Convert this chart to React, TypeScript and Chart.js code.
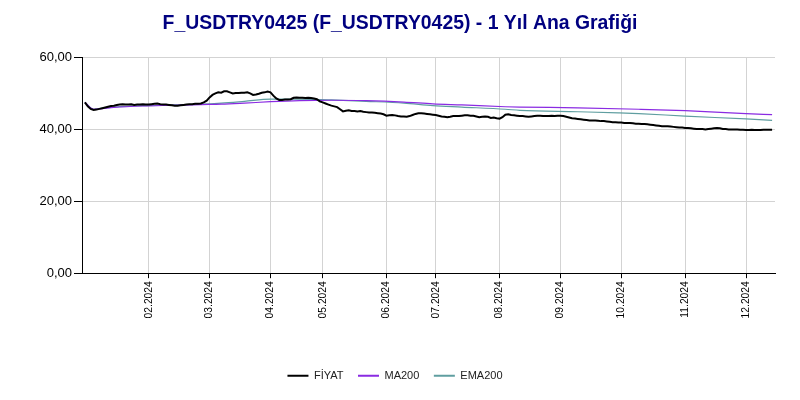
import React, { useEffect, useRef } from "react";
import { Chart, registerables } from "chart.js";

Chart.register(...registerables);

const TITLE = "F_USDTRY0425 (F_USDTRY0425) - 1 Yıl Ana Grafiği";
const SERIES_NAMES = ["FİYAT", "MA200", "EMA200"];
const SERIES_COLORS = ["#000000", "#8a2be2", "#5f9ea0"];

// month tick labels and the trading-day index where each month starts
const MONTH_LABELS = ["02.2024", "03.2024", "04.2024", "05.2024", "06.2024", "07.2024", "08.2024", "09.2024", "10.2024", "11.2024", "12.2024"];
const MONTH_START_INDEX = [22, 43, 64, 82, 104, 121, 143, 164, 185, 207, 228];
const LAST_INDEX = 238;

const Y_MIN = 0;
const Y_MAX = 60;
const Y_STEP = 20;

// daily closing price (trading days, Jan..Dec 2024)
const PRICE_JAN = [47.5, 46.4, 45.7, 45.4, 45.5, 45.7, 45.9, 46.1, 46.3, 46.5, 46.6, 46.8, 46.9, 47.0, 46.9, 46.9, 47.0, 46.8, 46.9, 46.9, 47.0, 46.9];
const PRICE_FEB = [46.9, 47.0, 47.1, 47.2, 47.0, 46.9, 46.9, 46.8, 46.7, 46.6, 46.6, 46.7, 46.8, 46.9, 47.0, 47.0, 47.1, 47.1, 47.2, 47.5, 48.0];
const PRICE_MAR = [48.9, 49.6, 50.0, 50.3, 50.2, 50.6, 50.6, 50.3, 50.0, 50.1, 50.1, 50.2, 50.2, 50.3, 50.0, 49.6, 49.7, 49.9, 50.2, 50.3, 50.5];
const PRICE_APR = [50.3, 49.4, 48.6, 48.2, 48.2, 48.3, 48.3, 48.4, 48.8, 48.9, 48.8, 48.8, 48.7, 48.8, 48.7, 48.6, 48.4, 47.8];
const PRICE_MAY = [47.5, 47.2, 46.9, 46.6, 46.4, 46.2, 45.6, 45.0, 45.2, 45.3, 45.1, 45.1, 45.0, 45.1, 44.9, 44.8, 44.7, 44.7, 44.6, 44.5, 44.4, 44.2];
const PRICE_JUN = [43.8, 43.9, 44.0, 43.9, 43.7, 43.6, 43.6, 43.5, 43.7, 44.0, 44.3, 44.5, 44.5, 44.4, 44.3, 44.2, 44.1];
const PRICE_JUL = [44.0, 43.8, 43.6, 43.5, 43.4, 43.5, 43.7, 43.7, 43.7, 43.8, 43.9, 43.9, 43.8, 43.8, 43.6, 43.4, 43.5, 43.6, 43.5, 43.2, 43.3, 43.1];
const PRICE_AUG = [43.0, 43.4, 44.1, 44.2, 44.0, 43.9, 43.8, 43.7, 43.7, 43.6, 43.5, 43.6, 43.7, 43.8, 43.8, 43.7, 43.7, 43.7, 43.8, 43.7, 43.8];
const PRICE_SEP = [43.8, 43.7, 43.5, 43.3, 43.1, 43.0, 42.9, 42.8, 42.7, 42.6, 42.5, 42.5, 42.5, 42.4, 42.3, 42.3, 42.2, 42.1, 42.0, 42.0, 41.9];
const PRICE_OCT = [41.9, 41.8, 41.8, 41.8, 41.7, 41.6, 41.6, 41.5, 41.5, 41.4, 41.3, 41.2, 41.1, 41.0, 40.9, 40.9, 40.9, 40.8, 40.7, 40.6, 40.5, 40.5];
const PRICE_NOV = [40.4, 40.4, 40.3, 40.2, 40.1, 40.1, 40.1, 40.0, 40.1, 40.2, 40.3, 40.4, 40.3, 40.1, 40.1, 40.0, 40.0, 40.0, 40.0, 39.9, 39.9];
const PRICE_DEC = [39.8, 39.8, 39.9, 39.8, 39.8, 39.8, 39.9, 39.9, 39.9, 39.9];

// moving averages, read at selected trading-day indices
const MA200_AT = [0, 3, 6, 10, 20, 30, 40, 47, 55, 64, 74, 85, 97, 110, 120, 130, 145, 150, 170, 191, 207, 228, 237];
const MA200 = [47.5, 45.6, 45.8, 46.1, 46.5, 46.7, 46.9, 47.0, 47.3, 47.7, 48.0, 48.1, 48.0, 47.6, 47.1, 46.8, 46.3, 46.2, 46.0, 45.6, 45.2, 44.4, 44.1];
const EMA200_AT = [0, 3, 6, 10, 20, 30, 40, 47, 55, 64, 74, 85, 97, 110, 120, 130, 145, 150, 170, 184, 191, 207, 228, 237];
const EMA200 = [47.5, 45.6, 45.9, 46.2, 46.6, 46.8, 47.0, 47.3, 47.8, 48.4, 48.4, 48.2, 47.8, 47.3, 46.6, 46.2, 45.6, 45.3, 44.9, 44.6, 44.4, 43.7, 42.9, 42.5];

const PRICE = [
  ...PRICE_JAN, ...PRICE_FEB, ...PRICE_MAR, ...PRICE_APR, ...PRICE_MAY, ...PRICE_JUN,
  ...PRICE_JUL, ...PRICE_AUG, ...PRICE_SEP, ...PRICE_OCT, ...PRICE_NOV, ...PRICE_DEC,
];

const FONT = "'Liberation Sans', Arial, Helvetica, sans-serif";

// nudges the bottom legend a few pixels left, as in the reference
const legendShift = {
  id: "legendShift",
  afterLayout(chart: any) {
    if (chart.legend) {
      chart.legend.left -= 5;
      chart.legend.right -= 5;
    }
  },
};

export default function App() {
  const canvasRef = useRef<HTMLCanvasElement | null>(null);

  useEffect(() => {
    if (!canvasRef.current) return;
    const chart = new Chart(canvasRef.current, {
      type: "line",
      plugins: [legendShift],
      data: {
        datasets: [
          {
            label: SERIES_NAMES[0],
            data: PRICE.map((y, i) => ({ x: i, y })),
            borderColor: SERIES_COLORS[0],
            backgroundColor: SERIES_COLORS[0],
            borderWidth: 2,
            pointRadius: 0,
            tension: 0,
          },
          {
            label: SERIES_NAMES[1],
            data: MA200_AT.map((x, i) => ({ x, y: MA200[i] })),
            borderColor: SERIES_COLORS[1],
            backgroundColor: SERIES_COLORS[1],
            borderWidth: 1.2,
            pointRadius: 0,
            cubicInterpolationMode: "monotone",
          },
          {
            label: SERIES_NAMES[2],
            data: EMA200_AT.map((x, i) => ({ x, y: EMA200[i] })),
            borderColor: SERIES_COLORS[2],
            backgroundColor: SERIES_COLORS[2],
            borderWidth: 1.2,
            pointRadius: 0,
            cubicInterpolationMode: "monotone",
          },
        ],
      },
      options: {
        animation: false,
        responsive: true,
        maintainAspectRatio: false,
        font: { family: FONT },
        layout: { padding: { left: 25, right: 25, top: 0, bottom: 8.8 } },
        plugins: {
          tooltip: { enabled: false },
          title: {
            display: true,
            text: TITLE,
            color: "#000080",
            font: { family: FONT, size: 19.4, weight: "bold" },
            padding: { top: 12, bottom: 22.2 },
          },
          legend: {
            position: "bottom",
            labels: {
              font: { family: FONT, size: 11 },
              color: "#222",
              boxWidth: 21,
              boxHeight: 2,
              padding: 14.5,
              generateLabels: (c: any) =>
                c.data.datasets.map((ds: any, i: number) => ({
                  text: ds.label,
                  fillStyle: ds.borderColor,
                  strokeStyle: ds.borderColor,
                  lineWidth: 0,
                  hidden: false,
                  datasetIndex: i,
                  fontColor: "#222",
                })),
            },
          },
        },
        scales: {
          x: {
            type: "linear",
            min: -1,
            max: LAST_INDEX,
            afterBuildTicks: (scale: any) => {
              scale.ticks = MONTH_START_INDEX.map((v) => ({ value: v }));
            },
            afterFit: (scale: any) => {
              scale.height = 82.5;
            },
            ticks: {
              autoSkip: false,
              minRotation: 90,
              maxRotation: 90,
              padding: 3,
              color: "#000",
              font: { family: FONT, size: 10.3 },
              callback: (value: any) => {
                const k = MONTH_START_INDEX.indexOf(Number(value));
                return k >= 0 ? MONTH_LABELS[k] : "";
              },
            },
            grid: {
              color: "#d3d3d3",
              tickColor: "#000",
              tickLength: 5,
              lineWidth: 1,
            },
            border: { display: true, color: "#000", width: 1 },
          },
          y: {
            min: Y_MIN,
            max: Y_MAX,
            afterFit: (scale: any) => {
              scale.width = 57;
            },
            ticks: {
              stepSize: Y_STEP,
              padding: 2,
              color: "#000",
              font: { family: FONT, size: 13 },
              callback: (value: any) => Number(value).toFixed(2).replace(".", ","),
            },
            grid: {
              color: (ctx: any) => (ctx.tick && ctx.tick.value === 0 ? "#000" : "#d3d3d3"),
              tickColor: "#000",
              tickLength: 8,
            },
            border: { display: true, color: "#000", width: 1 },
          },
        },
      },
    });
    return () => chart.destroy();
  }, []);

  return (
    <div style={{ position: "fixed", left: 0, top: 0, width: 800, height: 400, background: "#fff" }}>
      <canvas ref={canvasRef} />
    </div>
  );
}
